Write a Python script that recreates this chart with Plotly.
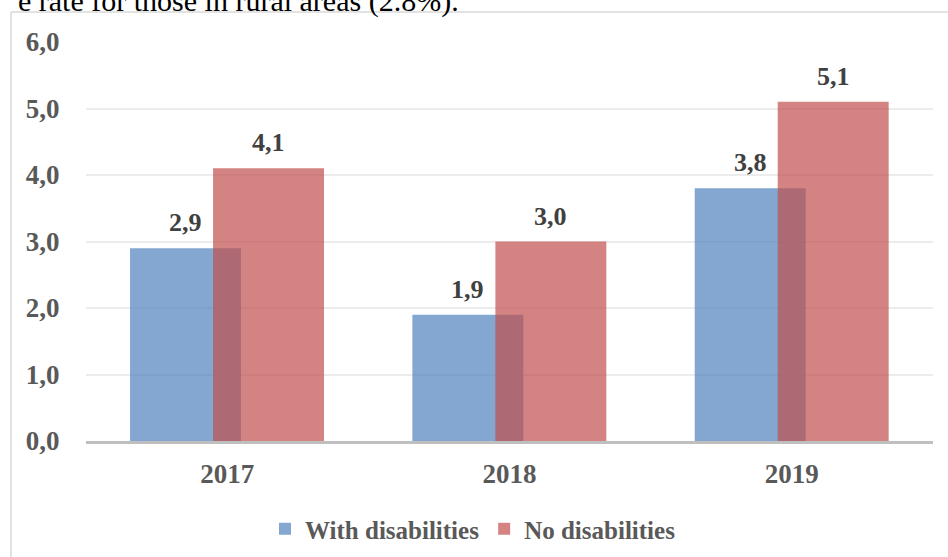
import plotly.graph_objects as go

years = ["2017", "2018", "2019"]
with_dis = [2.9, 1.9, 3.8]
no_dis = [4.1, 3.0, 5.1]
y_ticks = [0, 1, 2, 3, 4, 5, 6]

W, H = 948, 557
L, R, T, B = 86, 15, 42, 116
pw = W - L - R
ph = H - T - B

bar_w = 0.393
off_blue = -0.344
off_red = -0.050

xpos = list(range(len(years)))
FONT = "Liberation Serif, Times New Roman, serif"

fig = go.Figure()
fig.add_trace(go.Bar(
    x=xpos, y=with_dis, name="With disabilities",
    width=bar_w, offset=off_blue,
    marker=dict(color="rgba(79,129,189,0.7)", line=dict(width=0)),
))
fig.add_trace(go.Bar(
    x=xpos, y=no_dis, name="No disabilities",
    width=bar_w, offset=off_red,
    marker=dict(color="rgba(192,80,77,0.7)", line=dict(width=0)),
))

def fmt(v):
    return f"{v:.1f}".replace(".", ",")

anns = []
for i, v in enumerate(with_dis):
    anns.append(dict(x=i + off_blue + bar_w / 2, y=v, xref="x", yref="y",
                     text=fmt(v), showarrow=False, yanchor="bottom", yshift=9,
                     font=dict(family=FONT, size=26, color="#404040", weight="bold")))
for i, v in enumerate(no_dis):
    anns.append(dict(x=i + off_red + bar_w / 2, y=v, xref="x", yref="y",
                     text=fmt(v), showarrow=False, yanchor="bottom", yshift=9,
                     font=dict(family=FONT, size=26, color="#404040", weight="bold")))

def px_x(px):
    return (px - L) / pw

def px_y(py):
    return (H - B - py) / ph

# cut-off sentence at top of the page
anns.append(dict(x=px_x(461), y=px_y(20), xref="paper", yref="paper",
                 text="e rate for those in rural areas (2.8%).", showarrow=False,
                 xanchor="right", yanchor="bottom",
                 font=dict(family=FONT, size=30, color="#000000")))

shapes = [
    dict(type="line", xref="paper", yref="paper", x0=px_x(11), x1=px_x(11),
         y0=px_y(12), y1=px_y(H + 5), line=dict(color="#d9d9d9", width=1.5)),
    dict(type="line", xref="paper", yref="paper", x0=px_x(11), x1=px_x(W + 5),
         y0=px_y(12), y1=px_y(12), line=dict(color="#d9d9d9", width=1.5)),
]

fig.update_layout(
    width=W, height=H,
    margin=dict(l=L, r=R, t=T, b=B, pad=0, autoexpand=False),
    barmode="overlay",
    separators=",.",
    paper_bgcolor="white", plot_bgcolor="white",
    font=dict(family=FONT, size=26, color="#595959"),
    annotations=anns,
    shapes=shapes,
    legend=dict(orientation="h", x=px_x(473), y=px_y(529), xanchor="center",
                yanchor="middle", font=dict(family=FONT, size=25, color="#595959", weight="bold"),
                bgcolor="rgba(0,0,0,0)", itemclick=False),
    xaxis=dict(range=[-0.5, 2.5], tickvals=xpos, ticktext=years,
               showgrid=False, zeroline=False, automargin=False,
               showline=True, linecolor="#bfbfbf", linewidth=2.5,
               ticks="outside", ticklen=7, tickcolor="rgba(0,0,0,0)",
               tickfont=dict(family=FONT, size=27, color="#595959", weight="bold")),
    yaxis=dict(range=[0, 6], tickvals=y_ticks, tickformat=".1f",
               showgrid=True, gridcolor="#ececec", gridwidth=1.5,
               zeroline=False, showline=False, automargin=False,
               ticks="outside", ticklen=20, tickcolor="rgba(0,0,0,0)",
               tickfont=dict(family=FONT, size=27, color="#595959", weight="bold")),
)

fig.write_html("out.html", config={"displayModeBar": False},
               post_script="document.body.style.margin='0';document.body.style.overflow='hidden';")
